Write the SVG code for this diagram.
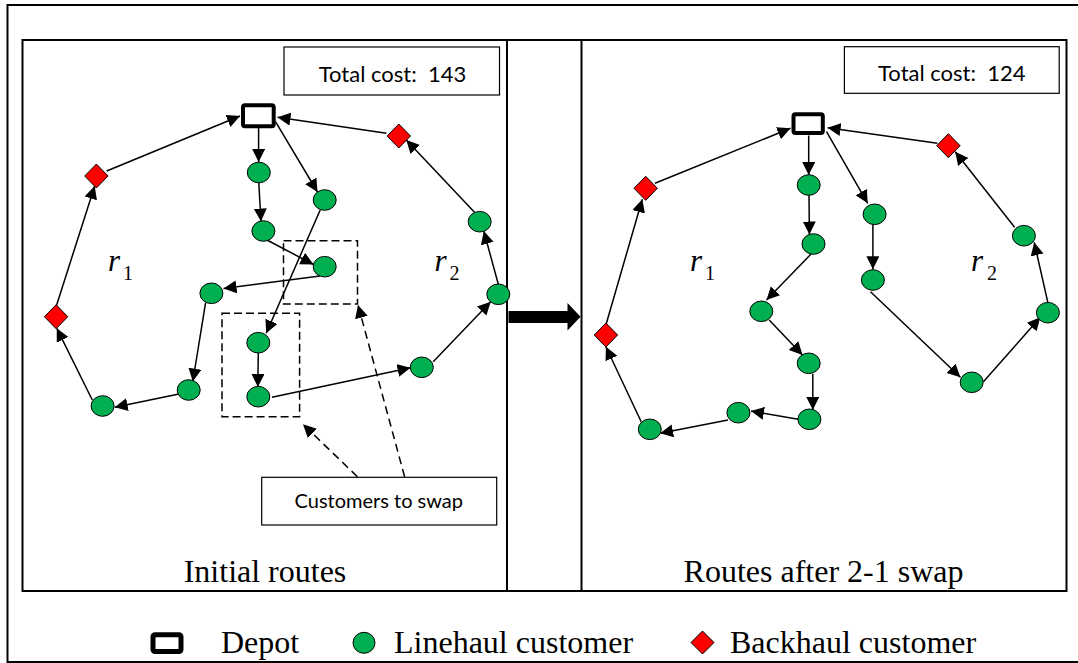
<svg xmlns="http://www.w3.org/2000/svg" width="1078" height="663" viewBox="0 0 1078 663">
<style>
.frame{fill:none;stroke:#000;stroke-width:2}
.box{fill:#fff;stroke:#000;stroke-width:1.2}
.depot{fill:#fff;stroke:#000;stroke-width:4}
.lh{fill:#00B050;stroke:#000;stroke-width:1}
.bh{fill:#FF0000;stroke:#000;stroke-width:1}
.e{stroke:#000;stroke-width:1.5;fill:none;marker-end:url(#ah)}
.d{stroke:#000;stroke-width:1.5;fill:none;stroke-dasharray:8,4}
.da{stroke:#000;stroke-width:1.5;fill:none;stroke-dasharray:8,5;marker-end:url(#ah)}
.cal{font-family:Lato,"Liberation Sans",sans-serif;font-size:20px;fill:#000;white-space:pre}
.cost{font-size:22px}
.ser{font-family:"Liberation Serif","Times New Roman",serif;font-size:32px;fill:#000}
.ri{font-family:"Liberation Serif",serif;font-style:italic;font-size:31px;fill:#000}
.sub{font-family:"Liberation Serif",serif;font-size:20px;fill:#000}
</style>
<defs>
<marker id="ah" markerUnits="userSpaceOnUse" markerWidth="14" markerHeight="14" refX="13" refY="6.5" orient="auto">
<path d="M0,0 L13,6.5 L0,13 z" fill="#000"/>
</marker>
</defs>

<rect x="7.5" y="5" width="1075" height="657" fill="#fff" stroke="#000" stroke-width="2"/>
<g id="panels">
<rect class="frame" x="22.5" y="40" width="1044" height="551"/>
<line class="frame" x1="507" y1="40" x2="507" y2="591"/>
<line class="frame" x1="581.5" y1="40" x2="581.5" y2="591"/>
<path d="M508.5,311 L567.5,311 L567.5,303 L580.5,316.8 L567.5,330.5 L567.5,323 L508.5,323 z" fill="#000"/>
</g>

<g id="connectors">
<!-- left panel -->
<line class="e" x1="258.6" y1="127.5" x2="258.6" y2="162"/>
<line class="e" x1="258.8" y1="183" x2="261" y2="221.5"/>
<line class="e" x1="275.5" y1="121.7" x2="317.5" y2="192"/>
<line class="e" x1="266" y1="239.5" x2="313.5" y2="264.5"/>
<line class="e" x1="320" y1="276" x2="223.5" y2="288.5"/>
<line class="e" x1="320.2" y1="210" x2="266.2" y2="333.3"/>
<line class="e" x1="205.6" y1="302.7" x2="192.8" y2="381.5"/>
<line class="e" x1="258.3" y1="352.7" x2="257.8" y2="387"/>
<line class="e" x1="272" y1="397.3" x2="410.5" y2="367.7"/>
<line class="e" x1="179" y1="394" x2="114.7" y2="407.3"/>
<line class="e" x1="92.3" y1="400" x2="56.8" y2="328.3"/>
<line class="e" x1="56.1" y1="306.7" x2="94.7" y2="186"/>
<line class="e" x1="106.7" y1="171" x2="240" y2="116"/>
<line class="e" x1="433.2" y1="361.7" x2="490.7" y2="301.7"/>
<line class="e" x1="498.3" y1="284.3" x2="483.8" y2="231"/>
<line class="e" x1="474.5" y1="212.3" x2="406.3" y2="140"/>
<line class="e" x1="386.4" y1="133.3" x2="277.5" y2="117.3"/>
<!-- dashed -->
<rect class="d" x="283.5" y="240.7" width="74" height="63.3"/>
<rect class="d" x="222" y="313.3" width="77.6" height="103.4"/>
<line class="da" x1="357.4" y1="476.7" x2="303" y2="424.3"/>
<line class="da" x1="404.6" y1="476.7" x2="358" y2="305"/>
<!-- right panel -->
<line class="e" x1="808.7" y1="135.5" x2="808.7" y2="175"/>
<line class="e" x1="809" y1="195" x2="809.4" y2="234.5"/>
<line class="e" x1="826.5" y1="131.7" x2="867.7" y2="203.3"/>
<line class="e" x1="872.9" y1="224.3" x2="872.9" y2="269.3"/>
<line class="e" x1="811.1" y1="254" x2="766.5" y2="300"/>
<line class="e" x1="769.2" y1="320" x2="802.5" y2="355"/>
<line class="e" x1="812.8" y1="374" x2="812.8" y2="410"/>
<line class="e" x1="798.1" y1="419.3" x2="751" y2="411"/>
<line class="e" x1="728" y1="420" x2="660.1" y2="433.3"/>
<line class="e" x1="641.2" y1="421.7" x2="605.9" y2="346.7"/>
<line class="e" x1="605.9" y1="325" x2="642.3" y2="199.3"/>
<line class="e" x1="655" y1="183.3" x2="790.5" y2="128.3"/>
<line class="e" x1="870.5" y1="291.7" x2="960.4" y2="377.3"/>
<line class="e" x1="983.4" y1="381.7" x2="1040.3" y2="317.3"/>
<line class="e" x1="1047.9" y1="302.7" x2="1034.2" y2="242.3"/>
<line class="e" x1="1014.6" y1="227.3" x2="955.2" y2="151.7"/>
<line class="e" x1="937.4" y1="143.3" x2="827.6" y2="127.7"/>
</g>

<g id="left-cost"><rect class="box" x="284" y="47" width="215.5" height="48"/><text class="cal cost" x="392.5" y="81.5" text-anchor="middle">Total cost:  143</text></g>
<g id="right-cost"><rect class="box" x="844.4" y="46.7" width="214.8" height="46.6"/><text class="cal cost" x="951.8" y="80.5" text-anchor="middle">Total cost:  124</text></g>
<g id="swap-label"><rect class="box" x="261.7" y="477.3" width="235" height="47.7"/><text class="cal" x="378.8" y="508.3" text-anchor="middle">Customers to swap</text></g>

<g id="left-depot"><rect class="depot" x="243" y="105.3" width="30.7" height="21" rx="2"/></g>
<g id="L1"><ellipse class="lh" cx="258.8" cy="172.5" rx="11.5" ry="10.3"/></g>
<g id="L2"><ellipse class="lh" cx="263.4" cy="231" rx="11.5" ry="10.3"/></g>
<g id="L3"><ellipse class="lh" cx="324.7" cy="200" rx="11.5" ry="10.3"/></g>
<g id="L4"><ellipse class="lh" cx="324.7" cy="266.7" rx="11.5" ry="10.3"/></g>
<g id="L5"><ellipse class="lh" cx="211.4" cy="293.3" rx="11.5" ry="10.3"/></g>
<g id="L6"><ellipse class="lh" cx="258.3" cy="342.7" rx="11.5" ry="10.3"/></g>
<g id="L7"><ellipse class="lh" cx="258.3" cy="396.7" rx="11.5" ry="10.3"/></g>
<g id="L8"><ellipse class="lh" cx="188.7" cy="390" rx="11.5" ry="10.3"/></g>
<g id="L9"><ellipse class="lh" cx="102.6" cy="406" rx="11.5" ry="10.3"/></g>
<g id="L10"><ellipse class="lh" cx="421.8" cy="367.3" rx="11.5" ry="10.3"/></g>
<g id="L11"><ellipse class="lh" cx="498.3" cy="294.3" rx="11.5" ry="10.3"/></g>
<g id="L12"><ellipse class="lh" cx="479.7" cy="221.7" rx="11.5" ry="10.3"/></g>
<g id="LD1"><path class="bh" d="M398.8,124 L410.5,136 L398.8,148 L387.1,136 z"/></g>
<g id="LD2"><path class="bh" d="M96.4,164 L108.1,176 L96.4,188 L84.7,176 z"/></g>
<g id="LD3"><path class="bh" d="M56.1,304.7 L67.8,316.7 L56.1,328.7 L44.4,316.7 z"/></g>

<g id="right-depot"><rect class="depot" x="793.5" y="114.3" width="29.3" height="18.7" rx="2"/></g>
<g id="R1"><ellipse class="lh" cx="808.7" cy="185" rx="11.5" ry="10.3"/></g>
<g id="R2"><ellipse class="lh" cx="813.5" cy="244" rx="11.5" ry="10.3"/></g>
<g id="R3"><ellipse class="lh" cx="874.6" cy="214.3" rx="11.5" ry="10.3"/></g>
<g id="R4"><ellipse class="lh" cx="872.9" cy="280" rx="11.5" ry="10.3"/></g>
<g id="R5"><ellipse class="lh" cx="761.3" cy="311.3" rx="11.5" ry="10.3"/></g>
<g id="R6"><ellipse class="lh" cx="808.7" cy="363.3" rx="11.5" ry="10.3"/></g>
<g id="R7"><ellipse class="lh" cx="809.4" cy="419.3" rx="11.5" ry="10.3"/></g>
<g id="R8"><ellipse class="lh" cx="738.4" cy="412.7" rx="11.5" ry="10.3"/></g>
<g id="R9"><ellipse class="lh" cx="649.8" cy="429.3" rx="11.5" ry="10.3"/></g>
<g id="R10"><ellipse class="lh" cx="971.7" cy="382.3" rx="11.5" ry="10.3"/></g>
<g id="R11"><ellipse class="lh" cx="1047.9" cy="312.7" rx="11.5" ry="10.3"/></g>
<g id="R12"><ellipse class="lh" cx="1023.9" cy="235.7" rx="11.5" ry="10.3"/></g>
<g id="RD1"><path class="bh" d="M948.4,133.7 L960.1,145.7 L948.4,157.7 L936.7,145.7 z"/></g>
<g id="RD2"><path class="bh" d="M645.7,176.3 L657.4,188.3 L645.7,200.3 L634,188.3 z"/></g>
<g id="RD3"><path class="bh" d="M605.9,323 L617.6,335 L605.9,347 L594.2,335 z"/></g>

<g id="route-labels">
<text class="ri" x="108" y="271">r</text><text class="sub" x="123" y="279.5">1</text>
<text class="ri" x="434.5" y="271">r</text><text class="sub" x="449.5" y="279.5">2</text>
<text class="ri" x="690" y="271">r</text><text class="sub" x="705" y="279.5">1</text>
<text class="ri" x="971" y="271">r</text><text class="sub" x="987" y="279.5">2</text>
</g>

<g id="captions">
<text class="ser" x="265" y="581.7" text-anchor="middle">Initial routes</text>
<text class="ser" x="823.5" y="581.7" text-anchor="middle">Routes after 2-1 swap</text>
</g>

<g id="legend">
<rect class="depot" x="153" y="634.8" width="28" height="16.7" rx="2" style="stroke-width:5"/>
<text class="ser" x="221" y="652.7">Depot</text>
<ellipse class="lh" cx="364" cy="642.8" rx="11" ry="10.5"/>
<text class="ser" x="394" y="652.7">Linehaul customer</text>
<path class="bh" d="M702.5,631 L714,642.5 L702.5,654 L691,642.5 z"/>
<text class="ser" x="730" y="652.7">Backhaul customer</text>
</g>
</svg>
